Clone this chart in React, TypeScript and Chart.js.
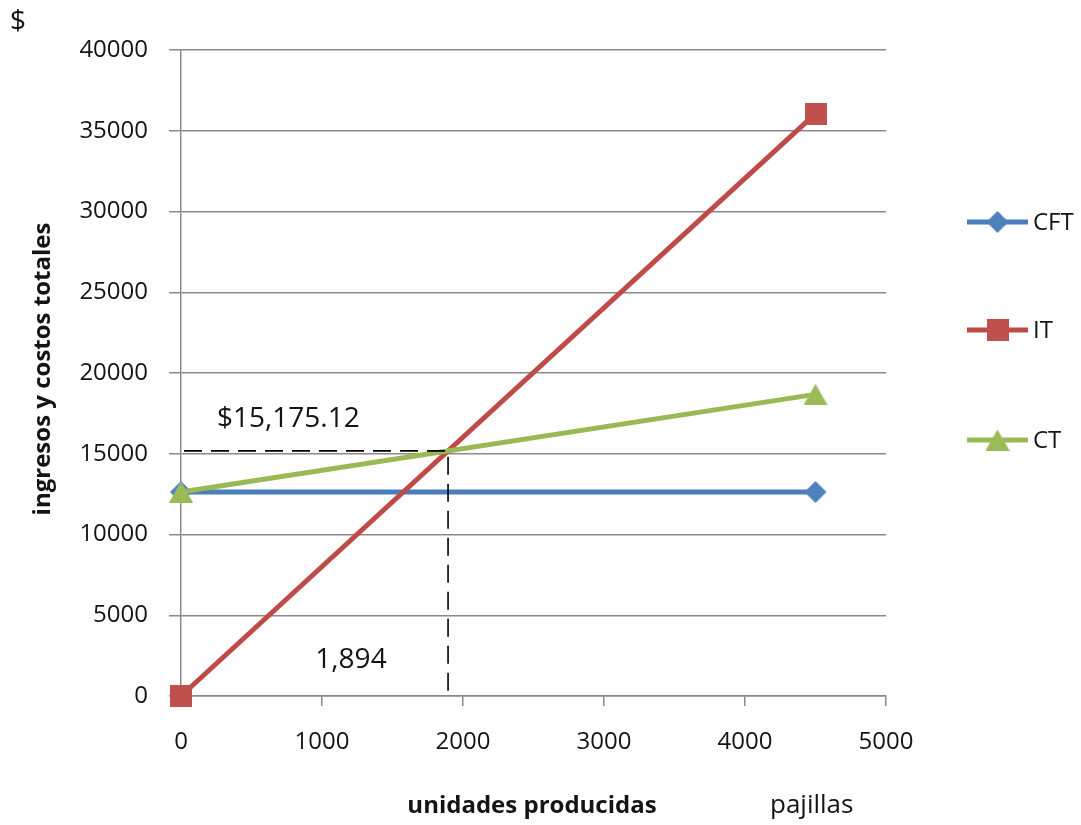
import React, { useEffect, useRef } from "react";
import { Chart, registerables } from "chart.js";

Chart.register(...registerables);

// Units produced at the two ends of every line
const units = [0, 4500];
// Costo fijo total (CFT)
const fixedCost = [12630, 12630];
// Ingreso total (IT)
const revenue = [0, 36055];
// Costo total (CT)
const totalCost = [12630, 18677];

const seriesNames = ["CFT", "IT", "CT"];

const xTickValues = [0, 1000, 2000, 3000, 4000, 5000];
const yTickValues = [0, 5000, 10000, 15000, 20000, 25000, 30000, 35000, 40000];

// Break-even point
const breakEvenUnits = 1894;
const breakEvenAmount = 15175.12;
const breakEvenUnitsLabel = "1,894";
const breakEvenAmountLabel = "$15,175.12";

const GRID = "#8a8a8a";
const TEXT = "#141414";
const FONT = "'Open Sans', 'DejaVu Sans', sans-serif";

const LINE_COLORS = ["#4A7EBB", "#BE4B48", "#98B954"];
const MARKER_COLORS = ["#4F81BD", "#C0504D", "#9BBB59"];

type MarkerKind = "diamond" | "square" | "triangle";

function makeMarker(kind: MarkerKind, color: string): HTMLCanvasElement {
  const c = document.createElement("canvas");
  const w = kind === "square" ? 22 : 24;
  const h = kind === "triangle" ? 21 : w;
  c.width = w;
  c.height = h;
  const g = c.getContext("2d")!;
  g.fillStyle = color;
  g.beginPath();
  if (kind === "diamond") {
    g.moveTo(w / 2, 1);
    g.lineTo(w - 1, h / 2);
    g.lineTo(w / 2, h - 1);
    g.lineTo(1, h / 2);
  } else if (kind === "square") {
    g.rect(0, 0, w, h);
  } else {
    g.moveTo(w / 2, 0);
    g.lineTo(w, h);
    g.lineTo(0, h);
  }
  g.closePath();
  g.fill();
  return c;
}

export default function App() {
  const canvasRef = useRef<HTMLCanvasElement | null>(null);

  useEffect(() => {
    const canvas = canvasRef.current;
    if (!canvas) return;

    const markers = [
      makeMarker("diamond", MARKER_COLORS[0]),
      makeMarker("square", MARKER_COLORS[1]),
      makeMarker("triangle", MARKER_COLORS[2]),
    ];
    const values = [fixedCost, revenue, totalCost];

    const datasets = seriesNames.map((name, i) => ({
      label: name,
      data: units.map((x, k) => ({ x, y: values[i][k] })),
      borderColor: LINE_COLORS[i],
      backgroundColor: MARKER_COLORS[i],
      borderWidth: 5,
      pointStyle: markers[i] as any,
      pointRadius: 11,
      pointHoverRadius: 11,
      tension: 0,
      clip: false as any,
      order: 3 - i,
    }));

    // Dashed guides to the break-even point plus their value labels
    const breakEvenPlugin = {
      id: "breakEven",
      afterDatasetsDraw(chart: any) {
        const { ctx } = chart;
        const xs = chart.scales.x;
        const ys = chart.scales.y;
        const x0 = xs.getPixelForValue(0);
        const xb = xs.getPixelForValue(breakEvenUnits);
        const yb = ys.getPixelForValue(breakEvenAmount);
        const y0 = ys.getPixelForValue(0);
        ctx.save();
        ctx.strokeStyle = "#000";
        ctx.lineWidth = 1.6;
        ctx.setLineDash([18, 9]);
        ctx.beginPath();
        ctx.moveTo(x0 + 3, yb);
        ctx.lineTo(xb, yb);
        ctx.lineTo(xb, y0);
        ctx.stroke();
        ctx.setLineDash([]);

        ctx.fillStyle = TEXT;
        ctx.font = `28px ${FONT}`;
        ctx.textAlign = "left";
        ctx.textBaseline = "alphabetic";
        ctx.fillText(breakEvenAmountLabel, x0 + 36, yb - 24);
        ctx.textAlign = "center";
        ctx.textBaseline = "middle";
        ctx.fillText(breakEvenUnitsLabel, x0 + 170, y0 - 36);
        ctx.restore();
      },
    };

    // Side legend and axis captions
    const decorPlugin = {
      id: "decor",
      afterDraw(chart: any) {
        const { ctx, chartArea } = chart;
        const rows = [222, 330, 440];
        const lineStart = chartArea.right + 81;
        const lineEnd = lineStart + 61;
        const mid = (lineStart + lineEnd) / 2;
        ctx.save();
        rows.forEach((y, i) => {
          ctx.strokeStyle = LINE_COLORS[i];
          ctx.lineWidth = 5;
          ctx.beginPath();
          ctx.moveTo(lineStart, y);
          ctx.lineTo(lineEnd, y);
          ctx.stroke();
          const m = markers[i];
          ctx.drawImage(m, mid - m.width / 2, y - m.height / 2);
          ctx.fillStyle = TEXT;
          ctx.font = `24px ${FONT}`;
          ctx.textAlign = "left";
          ctx.textBaseline = "middle";
          ctx.fillText(seriesNames[i], lineEnd + 5, y + 1);
        });

        ctx.fillStyle = TEXT;
        ctx.font = `28px ${FONT}`;
        ctx.textAlign = "left";
        ctx.textBaseline = "middle";
        ctx.fillText("$", 10, 22);

        ctx.font = `bold 24px ${FONT}`;
        ctx.textAlign = "center";
        ctx.textBaseline = "alphabetic";
        ctx.fillText("unidades producidas", 532, 813);

        ctx.font = `26px ${FONT}`;
        ctx.textAlign = "left";
        ctx.fillText("pajillas", 770, 813);

        ctx.translate(50, 369);
        ctx.rotate(-Math.PI / 2);
        ctx.font = `bold 24px ${FONT}`;
        ctx.textAlign = "center";
        ctx.fillText("ingresos y costos totales", 0, 0);
        ctx.restore();
      },
    };

    const chart = new Chart(canvas, {
      type: "line",
      data: { datasets: datasets as any },
      options: {
        responsive: false,
        animation: false,
        layout: { padding: { top: 50, right: 195, bottom: 0, left: 0 } },
        plugins: {
          legend: { display: false },
          tooltip: { enabled: false },
        },
        scales: {
          x: {
            type: "linear",
            min: 0,
            max: 5000,
            afterBuildTicks: (s: any) => {
              s.ticks = xTickValues.map((value) => ({ value }));
            },
            afterFit: (s: any) => {
              s.height = 129;
            },
            grid: {
              drawOnChartArea: false,
              drawTicks: true,
              tickLength: 10,
              color: GRID,
              lineWidth: 1.5,
            },
            border: { display: true, color: GRID, width: 1.5 },
            ticks: {
              font: { family: FONT, size: 24 },
              color: TEXT,
              padding: 22,
              maxRotation: 0,
              autoSkip: false,
              callback: (v: any) => String(v),
            },
          },
          y: {
            type: "linear",
            min: 0,
            max: 40000,
            afterBuildTicks: (s: any) => {
              s.ticks = yTickValues.map((value) => ({ value }));
            },
            afterFit: (s: any) => {
              s.width = 181;
            },
            grid: {
              color: GRID,
              lineWidth: 1.5,
              drawTicks: true,
              tickLength: 12,
            },
            border: { display: true, color: GRID, width: 1.5 },
            ticks: {
              font: { family: FONT, size: 24 },
              color: TEXT,
              padding: 21,
              autoSkip: false,
              callback: (v: any) => String(v),
            },
          },
        },
      },
      plugins: [breakEvenPlugin, decorPlugin],
    });

    return () => chart.destroy();
  }, []);

  return (
    <div
      style={{
        position: "fixed",
        left: 0,
        top: 0,
        width: 1081,
        height: 825,
        background: "#fff",
      }}
    >
      <canvas ref={canvasRef} width={1081} height={825} />
    </div>
  );
}
